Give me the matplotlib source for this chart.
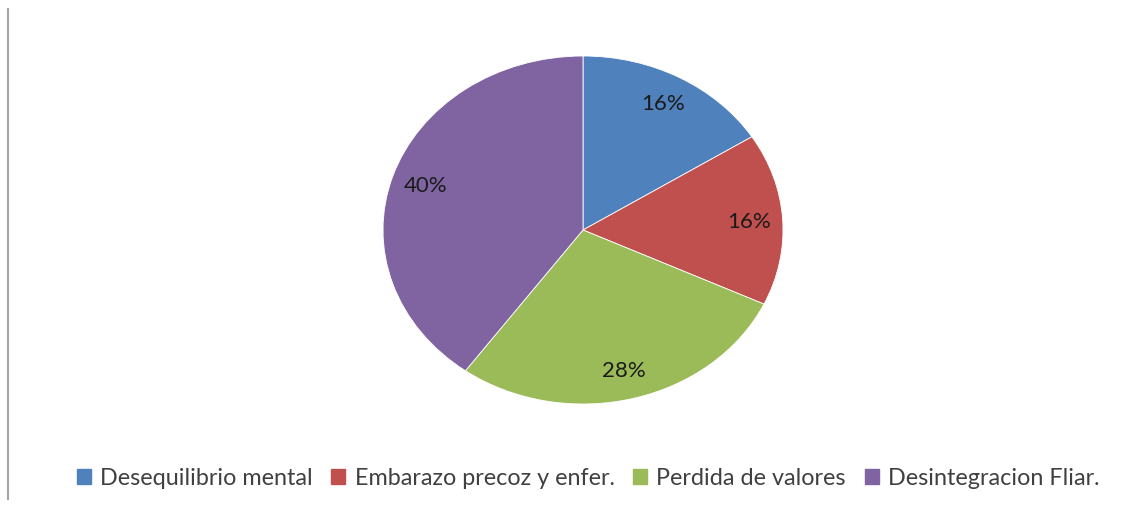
# Pie chart: causas (porcentajes)
import matplotlib.pyplot as plt
from matplotlib.lines import Line2D

plt.rcParams["font.family"] = ["Lato", "DejaVu Sans"]

# Data
categories = ["Desequilibrio mental", "Embarazo precoz y enfer.",
              "Perdida de valores", "Desintegracion Fliar."]
values = [16, 16, 28, 40]
colors = ["#4F81BD", "#C0504D", "#9BBB59", "#8064A2"]

W, H = 1148, 506
fig = plt.figure(figsize = (W / 100, H / 100), dpi = 100)

# Pie area (ellipse, like the original)
ax = fig.add_axes([383 / W, 1 - 405 / H, 400 / W, 348 / H])
wedges, texts, autotexts = ax.pie(values, colors = colors, startangle = 90, counterclock = False,
                                  autopct = "%1.0f%%", pctdistance = 0.83,
                                  wedgeprops = dict(linewidth = 0.6, edgecolor = "white"),
                                  textprops = dict(fontsize = 16, color = "#1a1a1a"))
ax.set_aspect("auto")
ax.set_xlim(-1, 1)
ax.set_ylim(-1, 1)
ax.axis("off")

# Left border line
fig.add_artist(Line2D([8 / W, 8 / W], [1 - 500 / H, 1 - 10 / H], color = "#a6a6a6", linewidth = 1.5))

# Legend
handles = [plt.Rectangle((0, 0), 1, 1, color = c) for c in colors]
leg = fig.legend(handles, categories, loc = "center", ncol = 4, bbox_to_anchor = (588 / W, 1 - 479 / H),
                 frameon = False, fontsize = 16.8, handlelength = 0.6, handleheight = 0.6,
                 handletextpad = 0.4, columnspacing = 0.8)
for t in leg.get_texts():
    t.set_color("#404040")

fig.savefig("out.png", dpi = 100)
